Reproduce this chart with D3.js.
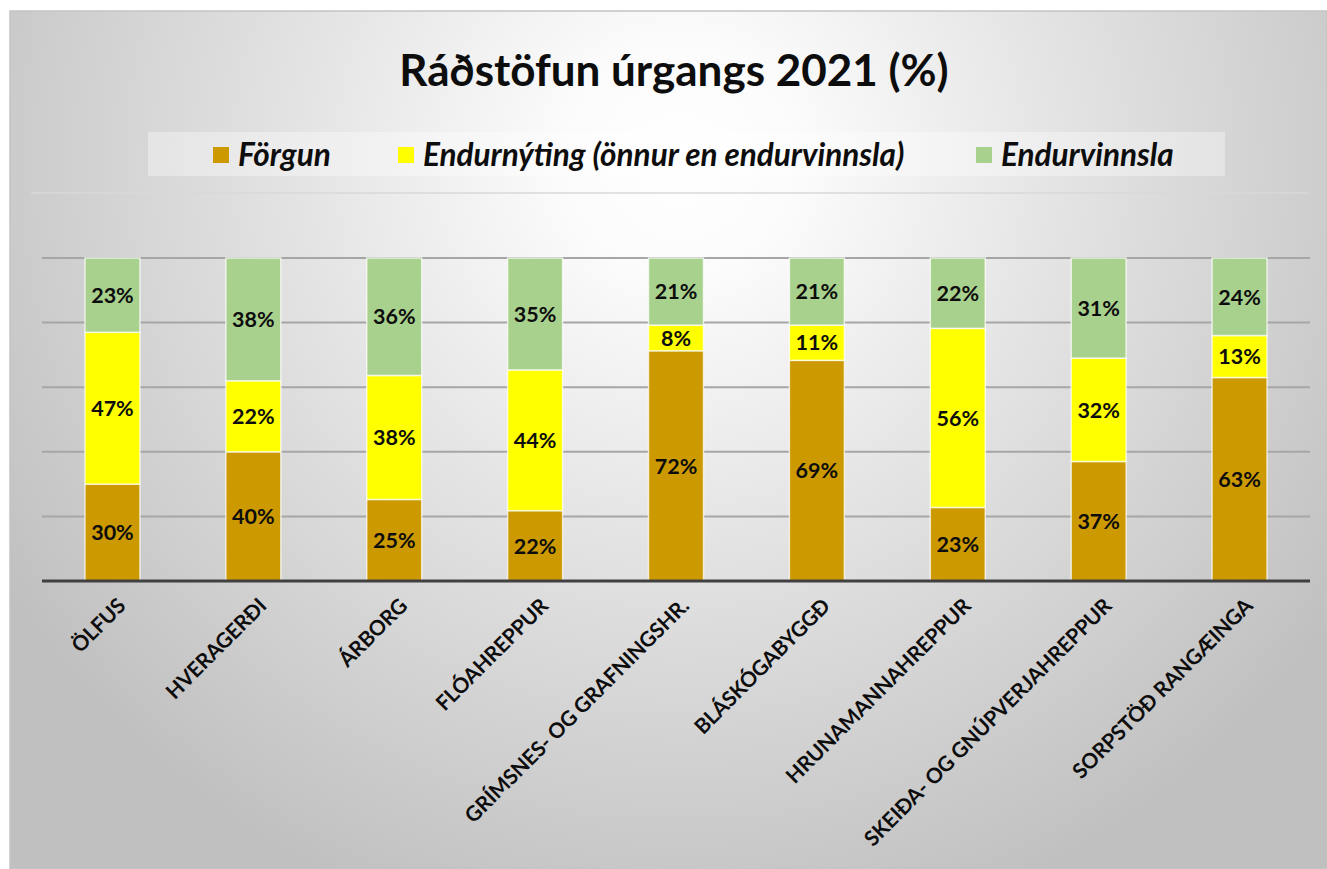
<!DOCTYPE html>
<html>
<head>
<meta charset="utf-8">
<script src="https://cdn.jsdelivr.net/npm/d3@7"></script>
<style>
	html, body { margin: 0; padding: 0; background: #ffffff; }
	svg { display: block; }
</style>
</head>
<body>
<svg id="chart" width="1327" height="869"></svg>
<script>
	// Data
	const categories = ["ÖLFUS", "HVERAGERÐI", "ÁRBORG", "FLÓAHREPPUR", "GRÍMSNES- OG GRAFNINGSHR.",
		"BLÁSKÓGABYGGÐ", "HRUNAMANNAHREPPUR", "SKEIÐA- OG GNÚPVERJAHREPPUR", "SORPSTÖÐ RANGÆINGA"]
	const seriesNames = ["Förgun", "Endurnýting (önnur en endurvinnsla)", "Endurvinnsla"]
	const forgun = [30, 40, 25, 22, 72, 69, 23, 37, 63]
	const endurnyting = [47, 22, 38, 44, 8, 11, 56, 32, 13]
	const endurvinnsla = [23, 38, 36, 35, 21, 21, 22, 31, 24]
	const colours = ["#cc9900", "#ffff00", "#a9d18e"]
	const yTicks = [0, 0.2, 0.4, 0.6, 0.8, 1]

	const width = 1327
	const height = 869
	const fontFamily = "Lato, 'Open Sans', sans-serif"

	let table = categories.map((c, i) => ({
		category: c,
		[seriesNames[0]]: forgun[i],
		[seriesNames[1]]: endurnyting[i],
		[seriesNames[2]]: endurvinnsla[i]
	}))

	let stacked = d3.stack()
		.keys(seriesNames)
		.offset(d3.stackOffsetExpand)(table)

	let svg = d3.select("#chart")

	// Background gradient of the chart area
	let defs = svg.append("defs")
	let grad = defs.append("radialGradient")
		.attr("id", "bgGradient")
		.attr("gradientUnits", "userSpaceOnUse")
		.attr("cx", 680)
		.attr("cy", 160)
		.attr("r", 800)
	grad.append("stop").attr("offset", "0%").attr("stop-color", "#ffffff")
	grad.append("stop").attr("offset", "15%").attr("stop-color", "#fbfbfb")
	grad.append("stop").attr("offset", "50%").attr("stop-color", "#e2e2e2")
	grad.append("stop").attr("offset", "100%").attr("stop-color", "#c0c0c0")

	svg.append("rect")
		.attr("x", 10)
		.attr("y", 11)
		.attr("width", width - 10)
		.attr("height", height - 11)
		.style("fill", "url(#bgGradient)")
		.style("stroke", "#c4c4c4")
		.style("stroke-width", 1.5)

	// Title
	svg.append("text")
		.text("Ráðstöfun úrgangs 2021 (%)")
		.attr("x", 674)
		.attr("y", 86)
		.attr("text-anchor", "middle")
		.style("font-family", fontFamily)
		.style("font-weight", "bold")
		.style("font-size", "44px")
		.style("fill", "#0d0d0d")

	// Legend
	let legend = svg.append("g").attr("class", "legend")
	legend.append("rect")
		.attr("x", 148)
		.attr("y", 132)
		.attr("width", 1077)
		.attr("height", 44)
		.style("fill", "#ffffff")
		.style("fill-opacity", 0.35)
	let legendX = [213, 398, 976]
	let items = legend.selectAll("g.item")
		.data(seriesNames)
		.join("g")
		.attr("class", "item")
		.attr("transform", (d, i) => `translate(${legendX[i]},155)`)
	items.append("rect")
		.attr("x", 0)
		.attr("y", -8)
		.attr("width", 16)
		.attr("height", 16)
		.style("fill", (d, i) => colours[i])
	items.append("text")
		.text(d => d)
		.attr("x", 25)
		.attr("dy", "0.36em")
		.style("font-family", fontFamily)
		.style("font-weight", "bold")
		.style("font-style", "italic")
		.style("font-size", "31.5px")
		.style("fill", "#0d0d0d")

	// Plot area
	let x = d3.scaleBand()
		.domain(categories)
		.range([42, 1310])
		.paddingInner(0.61)
		.paddingOuter(0.305)

	let y = d3.scaleLinear()
		.domain([0, 1])
		.range([581, 258])

	svg.append("line")
		.attr("x1", 31)
		.attr("x2", 1308)
		.attr("y1", 193)
		.attr("y2", 193)
		.style("stroke", "#d9d9d9")
		.style("stroke-width", 1.5)

	svg.append("g")
		.attr("class", "grid")
		.selectAll("line")
		.data(yTicks.slice(1))
		.join("line")
		.attr("x1", 42)
		.attr("x2", 1310)
		.attr("y1", d => y(d))
		.attr("y2", d => y(d))
		.style("stroke", "#a6a6a6")
		.style("stroke-width", 2)

	let layers = svg.append("g")
		.attr("class", "bars")
		.selectAll("g")
		.data(stacked)
		.join("g")
		.style("fill", (d, i) => colours[i])

	layers.selectAll("rect")
		.data(d => d)
		.join("rect")
		.attr("x", d => x(d.data.category))
		.attr("y", d => y(d[1]))
		.attr("width", x.bandwidth())
		.attr("height", d => y(d[0]) - y(d[1]))
		.style("stroke", "#ffffff")
		.style("stroke-opacity", 0.7)
		.style("stroke-width", 1.5)

	layers.selectAll("text")
		.data((d, i) => d.map(p => ({ p: p, value: p.data[seriesNames[i]] })))
		.join("text")
		.text(d => `${d.value}%`)
		.attr("x", d => x(d.p.data.category) + x.bandwidth() / 2)
		.attr("y", d => (y(d.p[0]) + y(d.p[1])) / 2)
		.attr("dy", "0.36em")
		.attr("text-anchor", "middle")
		.style("font-family", fontFamily)
		.style("font-weight", "bold")
		.style("font-size", "21.5px")
		.style("fill", "#0d0d0d")

	// X axis
	let xAxis = svg.append("g")
		.attr("class", "xAxis")
		.attr("transform", `translate(0,${y(0)})`)
		.call(d3.axisBottom(x).tickSize(0).tickSizeOuter(0))
	xAxis.select(".domain")
		.attr("d", "M42,0H1310")
		.style("stroke", "#404040")
		.style("stroke-width", 3)
	xAxis.selectAll(".tick text")
		.attr("x", 0)
		.attr("y", 0)
		.attr("dy", "0.36em")
		.attr("transform", "translate(9,21) rotate(-45)")
		.attr("text-anchor", "end")
		.style("font-family", fontFamily)
		.style("font-weight", "bold")
		.style("font-size", "21px")
		.style("letter-spacing", "-0.2px")
		.style("fill", "#0d0d0d")
</script>
</body>
</html>
